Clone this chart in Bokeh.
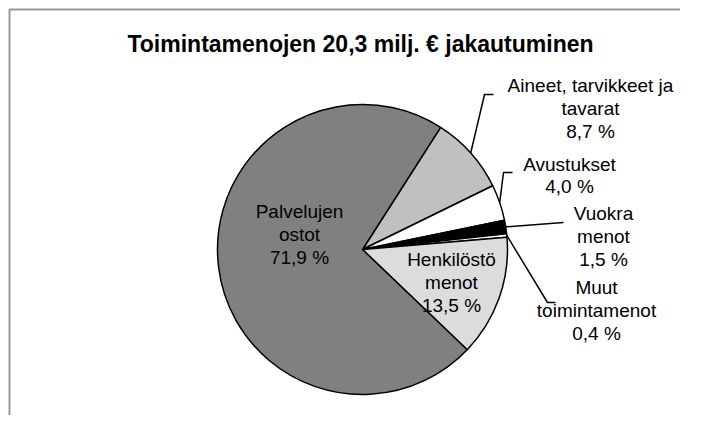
import numpy as np
from bokeh.plotting import figure
from bokeh.models import Range1d
from bokeh.core.properties import value
from bokeh.embed import file_html
from bokeh.resources import INLINE

# ---- data ----
title_text = "Toimintamenojen 20,3 milj. € jakautuminen"
categories = ["Aineet, tarvikkeet ja tavarat", "Avustukset", "Vuokra menot",
              "Muut toimintamenot", "Henkilöstö menot", "Palvelujen ostot"]
shares = [8.7, 4.0, 1.5, 0.4, 13.5, 71.9]
label_lines = [["Aineet, tarvikkeet ja", "tavarat"], ["Avustukset"], ["Vuokra", "menot"],
               ["Muut", "toimintamenot"], ["Henkilöstö", "menot"], ["Palvelujen", "ostot"]]
fill_colors = ["#c0c0c0", "#ffffff", "#000000", "#ffffff", "#dcdcdc", "#808080"]

# ---- layout (image pixels) ----
W, H = 680, 415
def X(px): return px
def Y(py): return H - py

cx, cy, R = X(362), Y(249), 145
start_deg = 32.6  # clockwise from 12 o'clock
label_pos = [(590, 108), (569, 175), (603, 236), (596, 310), (451, 282), (299, 234)]
elbows = [[(484, 94), (493, 94)], [(503, 172), (512, 172)], [(563, 222)],
          [(547, 302), (555, 302)], None, None]
FONT = "Liberation Sans"
FS = 19
LH = 1.08

p = figure(width=W, height=H, x_range=Range1d(0, W), y_range=Range1d(0, H),
           output_backend="svg", toolbar_location=None, min_border=0)
p.axis.visible = False
p.grid.visible = False
p.outline_line_color = None
p.background_fill_color = "white"
p.border_fill_color = "white"

# chart area border (left and top edges visible in the window)
p.line([X(9), X(9), X(W + 5)], [Y(H + 5), Y(9), Y(9)], line_color="#999999", line_width=2)

total = sum(shares)
frac = np.array(shares) / total
cum = np.concatenate([[0], np.cumsum(frac)])
comp_start = start_deg + 360 * cum[:-1]
comp_end = start_deg + 360 * cum[1:]
comp_mid = (comp_start + comp_end) / 2
sa = np.pi / 2 - np.radians(comp_start)
ea = np.pi / 2 - np.radians(comp_end)

p.wedge(x=cx, y=cy, radius=R, start_angle=sa, end_angle=ea, direction="clock",
        fill_color=fill_colors, line_color="black", line_width=1.5)

# leader lines
for i, el in enumerate(elbows):
    if el is None:
        continue
    a = np.radians(comp_mid[i])
    xs = [cx + R * np.sin(a)] + [X(e[0]) for e in el]
    ys = [cy + R * np.cos(a)] + [Y(e[1]) for e in el]
    p.line(xs, ys, line_color="black", line_width=1.5)

# labels
texts = []
for lines, s in zip(label_lines, shares):
    pct = f"{s:.1f}".replace(".", ",") + " %"
    texts.append("\n".join(lines + [pct]))
p.text(x=[X(q[0]) for q in label_pos], y=[Y(q[1]) for q in label_pos], text=texts,
       text_font=value(FONT), text_font_size=f"{FS}px", text_align="center",
       text_baseline="middle", text_line_height=LH, text_color="black")

# title
p.text(x=[X(360)], y=[Y(43)], text=[title_text], text_font=value(FONT),
       text_font_size="23px", text_font_style="bold", text_align="center",
       text_baseline="alphabetic", text_color="black")

open("out.html", "w").write(file_html(p, INLINE))
